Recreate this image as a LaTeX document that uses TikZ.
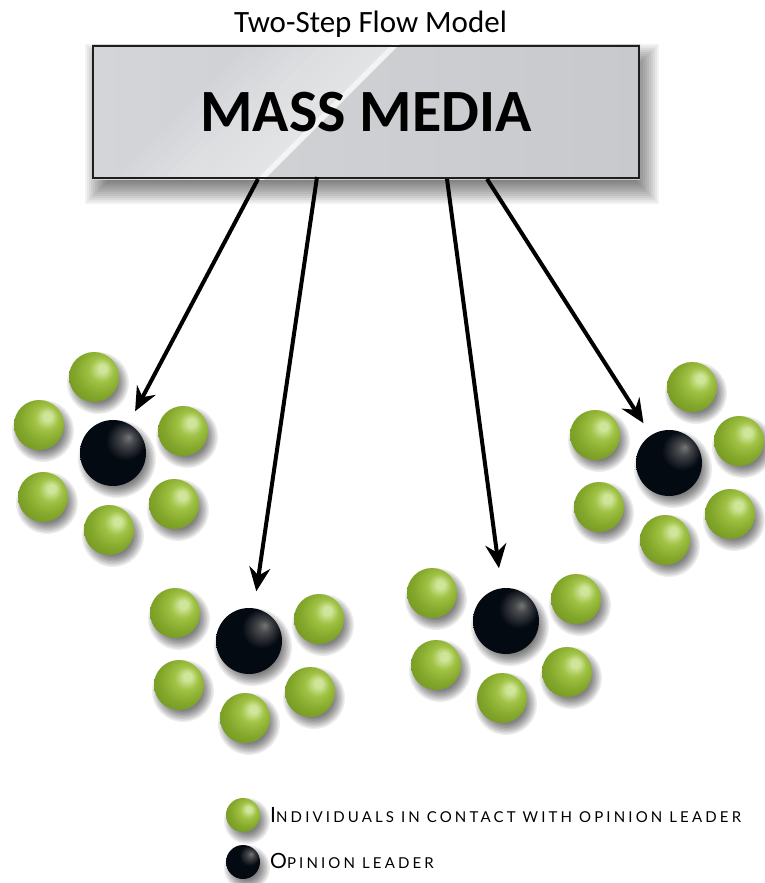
\documentclass[tikz,border=0pt]{standalone}
\usepackage{fontspec}
\setmainfont{Carlito}
\newfontfamily\keyfont[LetterSpace=21]{Lato}
\usetikzlibrary{arrows.meta}

% ball colours
\definecolor{ghi}{HTML}{CFE59A}
\definecolor{glt}{HTML}{A0C245}
\definecolor{gmid}{HTML}{83A72A}
\definecolor{gedge}{HTML}{66891B}
\definecolor{gdark}{HTML}{48620F}
\definecolor{bhi}{HTML}{767676}
\definecolor{bhi2}{HTML}{45474B}
\definecolor{bbody}{HTML}{040A12}
% box colours
\definecolor{boxA}{HTML}{D3D5D8}
\definecolor{boxB}{HTML}{C7C9CC}
\definecolor{boxline}{HTML}{1E1E1E}

\pgfdeclareradialshading{greenball}{\pgfpoint{9bp}{9bp}}{%
  color(0bp)=(ghi); color(4bp)=(ghi); color(12bp)=(glt);
  color(24bp)=(gmid); color(44bp)=(gedge); color(62bp)=(gdark)}
\pgfdeclareradialshading{blackball}{\pgfpoint{12bp}{12bp}}{%
  color(0bp)=(bhi); color(5bp)=(bhi2); color(15bp)=(bbody); color(70bp)=(bbody)}

\pgfdeclarelayer{bg}
\pgfdeclarelayer{paper}
\pgfsetlayers{paper,bg,main}

% soft drop shadow under a round node: name, radius
\newcommand\softshadow[2]{%
  \foreach \k in {0,...,8}
    \fill[black, opacity=0.07] ([shift={(4,6)}]#1.center) circle ({#2+6-1.4*\k});}

\tikzset{
  leader/.style={circle, inner sep=0pt, minimum size=66pt, shade, shading=blackball},
  member/.style={circle, inner sep=0pt, minimum size=50pt, shade, shading=greenball},
  conn/.style={line width=4pt, -{Stealth[length=24pt, width=21pt, inset=8pt]}},
  keytext/.style={anchor=base west, inner sep=0pt, font=\keyfont},
}

\begin{document}
\begin{tikzpicture}[x=1pt, y=-1pt]
\useasboundingbox (0,0) rectangle (765,883);
\begin{pgfonlayer}{paper}
  \fill[white] (0,0) rectangle (765,883);
\end{pgfonlayer}

% title and mass media box
\node[anchor=base, inner sep=0pt, font=\fontsize{31}{31}\selectfont] (title) at (370.5,33) {Two-Step Flow Model};
\node[draw=boxline, line width=2pt, minimum width=546pt, minimum height=132pt, inner sep=0pt,
      font=\fontsize{60}{60}\selectfont\bfseries] (media) at (366,112) {MASS MEDIA};

\begin{pgfonlayer}{bg}
  % blurred shadow of the box
  \foreach \k in {0,...,13}
    \fill[black, opacity=0.05] ({99-14+2*\k},{58-14+2*\k}) rectangle ({645+14-2*\k},{190+14-2*\k});
  % glossy fill with a diagonal sheen
  \begin{scope}
    \clip (media.north west) rectangle (media.south east);
    \shade[left color=boxA, right color=boxB] (media.north west) rectangle (media.south east);
    \foreach \k in {0,...,11}
      \fill[white, opacity=0.06] ({331-150+12*\k-150},262) -- ({331-150+12*\k+150},-38)
        -- ({331+150},-38) -- ({331-150},262) -- cycle;
    \fill[white, opacity=0.6] ({331-7-150},262) -- ({331-7+150},-38)
        -- ({331+1+150},-38) -- ({331+1-150},262) -- cycle;
  \end{scope}
\end{pgfonlayer}

% groups: opinion leader with the individuals around it
\foreach \c/\cx/\cy in {1/113/453, 2/249/641, 3/506/621, 4/669/463} {
  \node[leader] (L\c) at (\cx,\cy) {};
  \foreach \m/\dx/\dy in {a/-74/-28, b/70/-22, c/-70/44, d/61/51, e/-4/77}
    \node[member] (M\c\m) at (\cx+\dx,\cy+\dy) {};
}
\node[member] (M1t) at (94,377) {};
\node[member] (M3t) at (692,387) {};

% legend
\node[member, minimum size=34pt] (keyg) at (243,815) {};
\node[leader, minimum size=34pt] (keyb) at (243,862) {};
\node[keytext] (keygt) at (270,822) {{\fontsize{21}{21}\selectfont I}{\fontsize{15}{15}\selectfont NDIVIDUALS IN CONTACT WITH OPINION LEADER}};
\node[keytext] (keybt) at (270,868) {{\fontsize{21}{21}\selectfont O}{\fontsize{15}{15}\selectfont PINION LEADER}};

\begin{pgfonlayer}{bg}
  \foreach \c in {1,...,4} {
    \softshadow{L\c}{33}
    \foreach \m in {a,b,c,d,e} {\softshadow{M\c\m}{25}}
  }
  \softshadow{M1t}{25}
  \softshadow{M3t}{25}
  \softshadow{keyg}{17}
  \softshadow{keyb}{17}
\end{pgfonlayer}

% flow from the media to the opinion leaders
\coordinate (s1) at (258,179);
\coordinate (s2) at (317,177);
\coordinate (s3) at (447,179);
\coordinate (s4) at (487,179);
\draw[conn, shorten >=14pt] (s1) -- (L1);
\draw[conn, shorten >=17pt] (s2) -- (L2);
\draw[conn, shorten >=20pt] (s3) -- (L3);
\draw[conn, shorten >=14pt] (s4) -- (L4);
\end{tikzpicture}
\end{document}
